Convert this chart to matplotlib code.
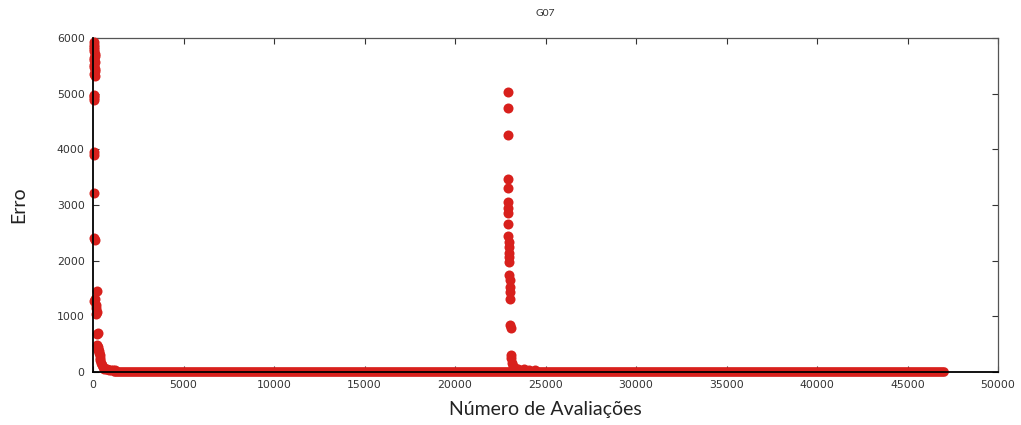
import matplotlib.pyplot as plt

# early phase of the run: error drops fast within the first evaluations
early_evals = [40, 50, 60, 70, 80, 90, 100, 60, 80, 100, 50, 70, 90, 110,
               70, 90, 60, 80, 60, 80, 60, 80, 210, 60, 80, 100, 120, 70, 140,
               150, 230, 170, 250, 200, 230, 260, 280, 300, 320, 340, 360,
               380, 400, 450, 500, 550, 600, 700, 800, 900, 1000, 1100, 1200]
early_error = [5920, 5880, 5840, 5800, 5760, 5720, 5680, 5640, 5600, 5560,
               5520, 5480, 5440, 5400, 5360, 5320, 4980, 4950, 4920, 4890,
               3950, 3890, 1460, 3220, 2400, 2380, 1320, 1280, 1200, 1150,
               1080, 1050, 700, 680, 480, 450, 420, 400, 370, 340, 300, 260,
               220, 170, 130, 90, 60, 50, 45, 40, 40, 35, 30]

# restart around 23k evaluations
restart_evals = [22900, 22900, 22920, 22900, 22910, 22920, 22930, 22920,
                 22930, 22950, 22960, 22970, 22980, 22990, 23000, 23000,
                 23010, 23020, 23030, 23040, 23060, 23080, 23100, 23120,
                 23140, 23200, 23300, 23500, 23800, 24100, 24400]
restart_error = [5030, 4740, 4250, 3470, 3310, 3060, 2940, 2850, 2660, 2450,
                 2330, 2250, 2140, 2070, 1980, 1740, 1650, 1530, 1440, 1320,
                 840, 790, 300, 250, 160, 110, 80, 60, 50, 40, 30]

# long stretch where the error stays at zero
flat_evals = [1200, 47000]
flat_error = [0, 0]

red = '#d8201c'

fig = plt.figure(figsize=(10.21, 4.25), dpi=100)
ax = fig.add_axes([0.0911, 0.1247, 0.8864, 0.7859])

ax.plot(flat_evals, flat_error, color=red, linewidth=7.0,
        solid_capstyle='round', clip_on=False, zorder=2)
ax.scatter(early_evals, early_error, s=52, color=red, linewidths=0,
           clip_on=False, zorder=3)
ax.scatter(restart_evals, restart_error, s=52, color=red, linewidths=0,
           clip_on=False, zorder=3)

ax.set_xlim(0, 50000)
ax.set_ylim(0, 6000)
ax.set_xticks(range(0, 50001, 5000))
ax.set_yticks(range(0, 6001, 1000))

ax.tick_params(direction='in', length=4, width=0.8, top=True, right=True,
               labelsize=7.8, labelcolor='#333333', pad=6, colors='#333333')
ax.tick_params(axis='y', labelright=False)

for side in ('top', 'right'):
    ax.spines[side].set_color('#555555')
    ax.spines[side].set_linewidth(0.9)
for side in ('left', 'bottom'):
    ax.spines[side].set_color('black')
    ax.spines[side].set_linewidth(1.3)
    ax.spines[side].set_zorder(4)

font = ['Lato', 'DejaVu Sans']
ax.set_title('G07', fontsize=7.5, color='#333333', family=font, pad=16)
ax.set_xlabel('Número de Avaliações', fontsize=14, family=font,
              color='#222222', labelpad=8)
ax.set_ylabel('Erro', fontsize=14, family=font, color='#222222', labelpad=21)

fig.savefig('out.png', dpi=100, facecolor='white')
